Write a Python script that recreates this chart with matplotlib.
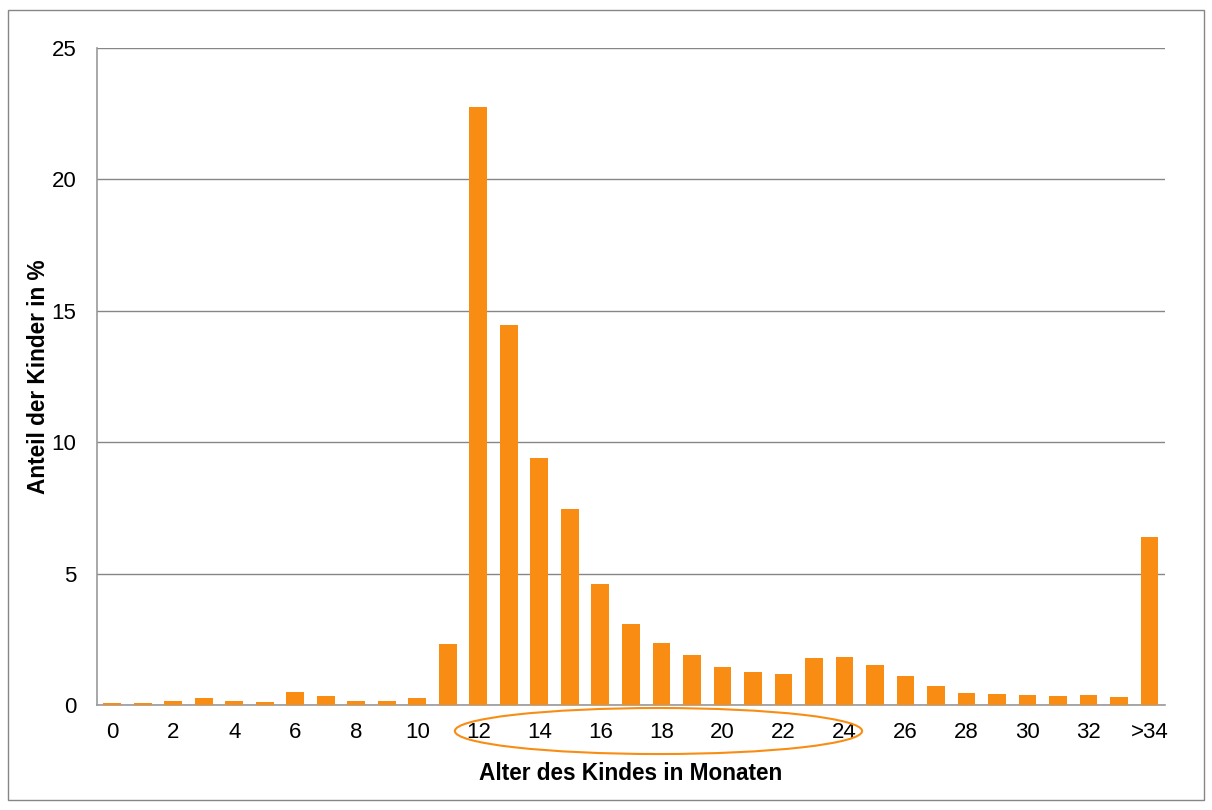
import matplotlib.pyplot as plt
import numpy as np
from matplotlib.patches import Ellipse, Rectangle

# Anteil der Kinder je Alter in Monaten (0..33, >34)
ages = [str(i) for i in range(34)] + ['>34']
share = [0.08, 0.07, 0.15, 0.27, 0.16, 0.13, 0.50, 0.34, 0.15, 0.15,
         0.28, 2.33, 22.75, 14.47, 9.40, 7.47, 4.62, 3.09, 2.36, 1.91,
         1.45, 1.24, 1.19, 1.79, 1.84, 1.53, 1.10, 0.72, 0.46, 0.42,
         0.38, 0.34, 0.38, 0.30, 6.38]
tick_labels = [a if i % 2 == 0 else '' for i, a in enumerate(ages)]

plt.rcParams['font.family'] = ['Liberation Sans', 'DejaVu Sans']

fig = plt.figure(figsize=(12.12, 8.1), dpi=100)
ax = fig.add_axes([0.080, 0.1296, 0.881, 0.8111])

x = np.arange(len(ages))
ax.bar(x, share, width=0.58, color='#F98D13', zorder=3)

ax.set_xlim(-0.5, len(ages) - 0.5)
ax.set_ylim(0, 25)
ax.set_yticks([0, 5, 10, 15, 20, 25])
ax.set_xticks(x)
ax.set_xticklabels(tick_labels)
ax.tick_params(length=0, labelsize=16)
ax.tick_params(axis='x', pad=12)
ax.tick_params(axis='y', pad=15)
ax.yaxis.grid(True, color='#868686', linewidth=1)
for s in ['top', 'right']:
    ax.spines[s].set_visible(False)
for s in ['left', 'bottom']:
    ax.spines[s].set_color('#999999')
    ax.spines[s].set_linewidth(1.2)

ax.set_xlabel('Alter des Kindes in Monaten', fontsize=16.3, fontweight='bold', labelpad=14)
ax.set_ylabel('Anteil der Kinder in %', fontsize=16.3, fontweight='bold', labelpad=1)

# Markierung 12-24 Monate
fig.patches.append(Ellipse((0.5433, 0.0975), 0.336, 0.0568, transform=fig.transFigure,
                           fill=False, edgecolor='#F98D13', linewidth=1.5))
# Rahmen
fig.patches.append(Rectangle((8 / 1212, 10 / 810), 1196 / 1212, 790 / 810,
                             transform=fig.transFigure, fill=False,
                             edgecolor='#868686', linewidth=1))

fig.savefig('out.png', dpi=100)
